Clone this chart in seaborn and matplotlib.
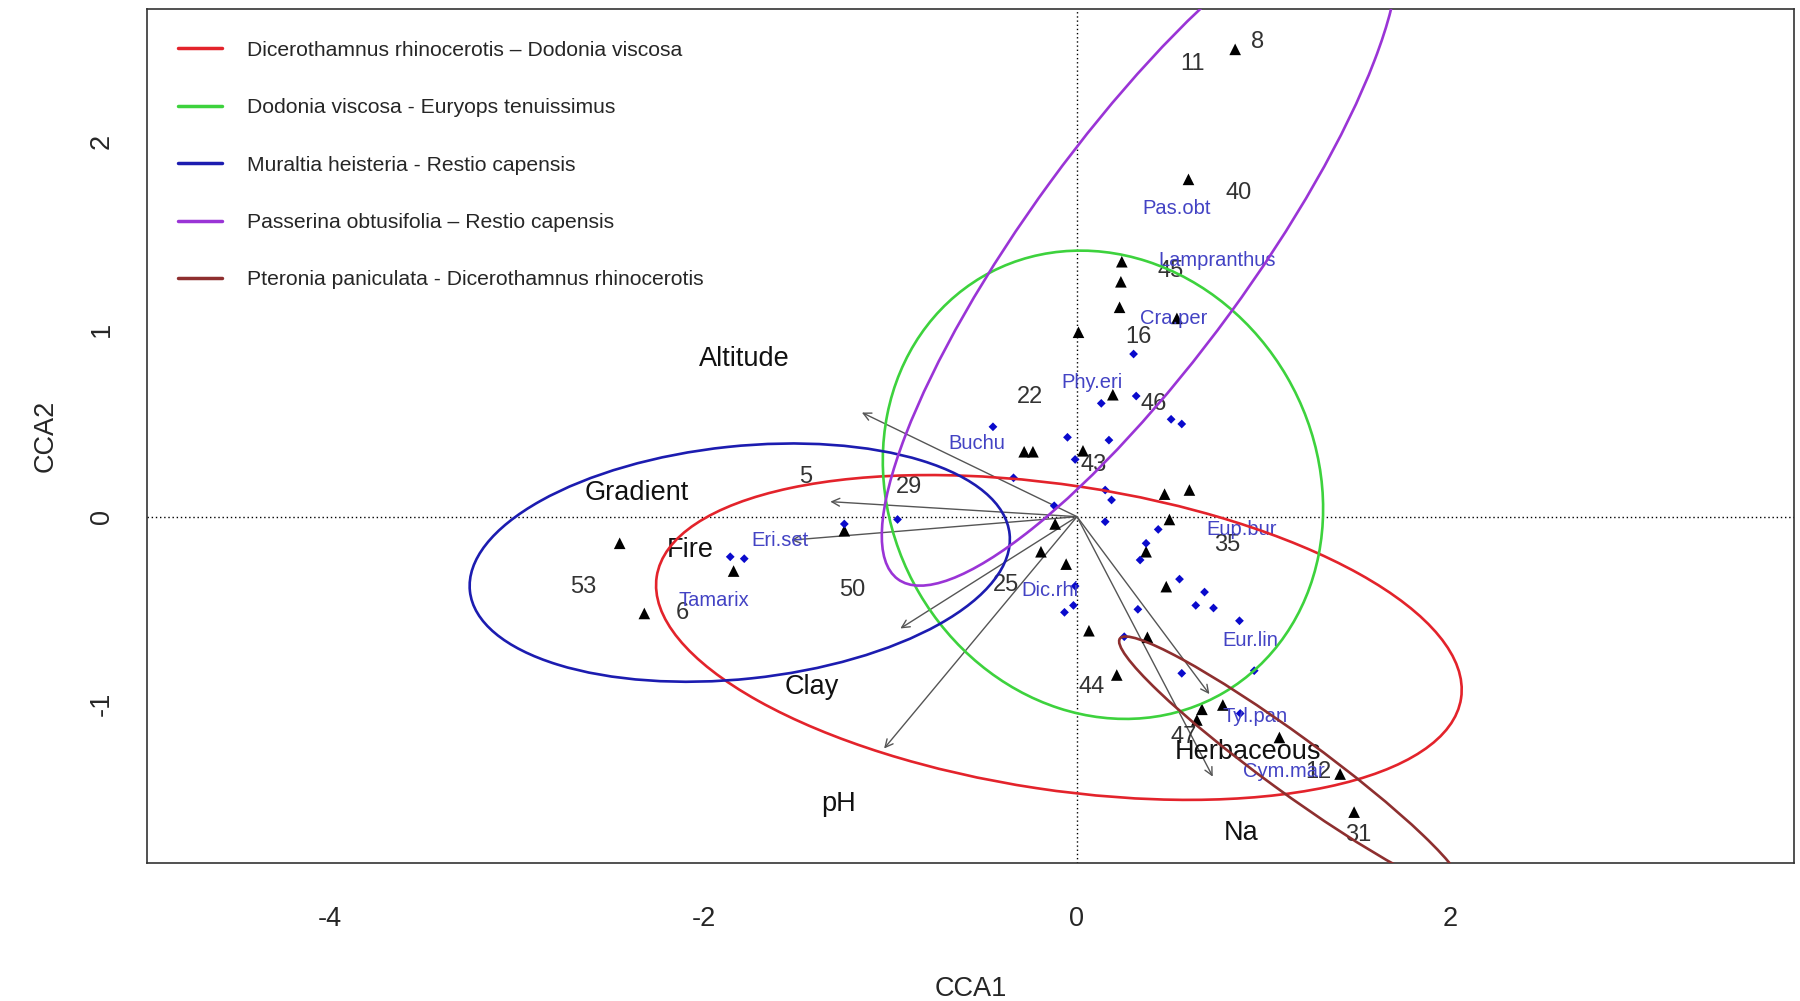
import matplotlib
matplotlib.use('Agg')
import matplotlib.pyplot as plt
from matplotlib.patches import Ellipse
from matplotlib.lines import Line2D
import seaborn as sns

# site scores (black triangles)
site_x = [0.847, 0.597, 0.240, 0.235, 0.228, 0.535, 0.008, 0.192, -0.283, -0.236,
          0.032, 0.469, 0.602, 0.495, -0.117, -0.193, -0.058, 0.370, 0.478, 0.064,
          0.377, 0.213, 0.669, 0.781, 0.642, 1.084, 1.409, 1.484, -2.449, -2.317,
          -1.839, -1.246]
site_y = [2.491, 1.798, 1.359, 1.252, 1.116, 1.057, 0.983, 0.650, 0.346, 0.346,
          0.351, 0.120, 0.142, -0.015, -0.039, -0.187, -0.253, -0.187, -0.373, -0.608,
          -0.643, -0.844, -1.027, -1.004, -1.084, -1.177, -1.372, -1.575, -0.142, -0.516,
          -0.290, -0.075]

# species scores (blue diamonds)
spec_x = [-0.450, 0.130, 0.317, 0.504, 0.561, -0.051, 0.171, -0.010, -0.340, 0.151,
          0.185, -0.122, 0.151, 0.435, 0.370, 0.338, 0.549, 0.683, 0.636, 0.731,
          0.870, -0.010, -0.019, -0.067, 0.326, 0.253, 0.561, 0.949, 0.874, 0.303,
          -1.857, -1.782, -1.246, -0.961]
spec_y = [0.479, 0.604, 0.643, 0.519, 0.494, 0.423, 0.408, 0.305, 0.207, 0.142,
          0.089, 0.058, -0.027, -0.068, -0.142, -0.231, -0.333, -0.402, -0.473, -0.487,
          -0.555, -0.370, -0.473, -0.510, -0.494, -0.640, -0.835, -0.821, -1.049, 0.867,
          -0.214, -0.224, -0.039, -0.015]

# site number labels
site_lab = ['8', '11', '40', '45', '16', '22', '46', '43', '5', '29',
            '53', '6', '50', '25', '35', '44', '47', '12', '31']
site_lab_x = [0.966, 0.620, 0.865, 0.499, 0.329, -0.254, 0.413, 0.088, -1.455, -0.902,
              -2.642, -2.115, -1.205, -0.379, 0.802, 0.080, 0.570, 1.293, 1.507]
site_lab_y = [2.532, 2.413, 1.727, 1.311, 0.959, 0.639, 0.600, 0.275, 0.213, 0.156,
              -0.373, -0.516, -0.391, -0.365, -0.151, -0.907, -1.173, -1.360, -1.697]

# species labels
spec_lab = ['Pas.obt', 'Lampranthus', 'Cra.per', 'Phy.eri', 'Buchu', 'Eri.set',
            'Tamarix', 'Dic.rhi', 'Eup.bur', 'Eur.lin', 'Tyl.pan', 'Cym.mar']
spec_lab_x = [0.535, 0.749, 0.517, 0.080, -0.536, -1.593, -1.946, -0.143, 0.883, 0.927, 0.954, 1.106]
spec_lab_y = [1.643, 1.368, 1.057, 0.714, 0.391, -0.128, -0.448, -0.391, -0.071, -0.658, -1.067, -1.360]

# environmental vectors
env_names = ['Altitude', 'Gradient', 'Fire', 'Clay', 'pH', 'Herbaceous', 'Na']
env_x = [-1.152, -1.321, -1.530, -0.946, -1.033, 0.709, 0.727]
env_y = [0.555, 0.080, -0.125, -0.596, -1.236, -0.946, -1.386]
env_lab_x = [-1.782, -2.360, -2.071, -1.420, -1.278, 0.918, 0.877]
env_lab_y = [0.838, 0.128, -0.178, -0.906, -1.530, -1.253, -1.688]

# community ellipses
groups = ['Dicerothamnus rhinocerotis \u2013 Dodonia viscosa',
          'Dodonia viscosa - Euryops tenuissimus',
          'Muraltia heisteria - Restio capensis',
          'Passerina obtusifolia \u2013 Restio capensis',
          'Pteronia paniculata - Dicerothamnus rhinocerotis']
group_colors = ['#E3232B', '#3DD23D', '#1C1CB0', '#9A34D6', '#8E2F2F']
ell_cx = [-0.097, 0.139, -1.806, 0.337, 1.144]
ell_cy = [-0.644, 0.170, -0.245, 1.432, -1.314]
ell_w = [4.356, 2.566, 2.906, 4.38, 2.26]
ell_h = [1.624, 2.282, 1.24, 1.19, 0.30]
ell_ang = [-8.55, -59.6, 6.0, 53.7, -36.0]

sns.set_style('white')
plt.rcParams['font.family'] = ['Liberation Sans', 'DejaVu Sans']
plt.rcParams['axes.unicode_minus'] = False

fig = plt.figure(figsize=(18, 10.01), dpi=100)
ax = fig.add_axes([0.0817, 0.1379, 0.915, 0.8529])

ax.axhline(0, color='black', lw=1, ls=(0, (1, 2)), zorder=1)
ax.axvline(0, color='black', lw=1, ls=(0, (1, 2)), zorder=1)

for tx, ty in zip(env_x, env_y):
    ax.annotate('', xy=(tx, ty), xytext=(0, 0),
                arrowprops=dict(arrowstyle='->', color='#555555', lw=1.0,
                                mutation_scale=14, shrinkA=0, shrinkB=0), zorder=2)

sns.scatterplot(x=site_x, y=site_y, marker='^', color='black', s=70,
                edgecolor='none', ax=ax, zorder=3)
sns.scatterplot(x=spec_x, y=spec_y, marker='D', color='#0A0ACC', s=20,
                edgecolor='none', ax=ax, zorder=3)

for s, x, y in zip(site_lab, site_lab_x, site_lab_y):
    ax.text(x, y, s, ha='center', va='center', fontsize=17, color='#333333', zorder=3)
for s, x, y in zip(spec_lab, spec_lab_x, spec_lab_y):
    ax.text(x, y, s, ha='center', va='center', fontsize=14.5, color='#4343C4', zorder=3)
for s, x, y in zip(env_names, env_lab_x, env_lab_y):
    ax.text(x, y, s, ha='center', va='center', fontsize=19.5, color='#111111', zorder=3)

for cx, cy, w, h, a, c in zip(ell_cx, ell_cy, ell_w, ell_h, ell_ang, group_colors):
    ax.add_patch(Ellipse((cx, cy), w, h, angle=a, fill=False, edgecolor=c, lw=1.9, zorder=4))

ax.set_xlim(-4.98, 3.84)
ax.set_ylim(-1.846, 2.705)
ax.set_xticks([-4, -2, 0, 2])
ax.set_yticks([-1, 0, 1, 2])
ax.tick_params(axis='both', direction='out', length=13, width=1, color='#333333',
               labelsize=19.5)
ax.tick_params(axis='x', pad=18)
ax.tick_params(axis='y', pad=10)
for lbl in ax.get_yticklabels():
    lbl.set_rotation(90)
    lbl.set_va('center')
for sp in ax.spines.values():
    sp.set_color('#333333')
    sp.set_linewidth(1.2)

ax.set_xlabel('CCA1', fontsize=19.5, labelpad=32)
ax.set_ylabel('CCA2', fontsize=19.5, labelpad=22)

handles = [Line2D([0], [0], color=c, lw=2.5) for c in group_colors]
ax.legend(handles, groups, loc='upper left', bbox_to_anchor=(0.0188, 0.963),
          frameon=False, fontsize=15.2, handlelength=2.1, handletextpad=1.15,
          labelspacing=1.82, borderaxespad=0, borderpad=0)

fig.savefig('out.png', dpi=100)
